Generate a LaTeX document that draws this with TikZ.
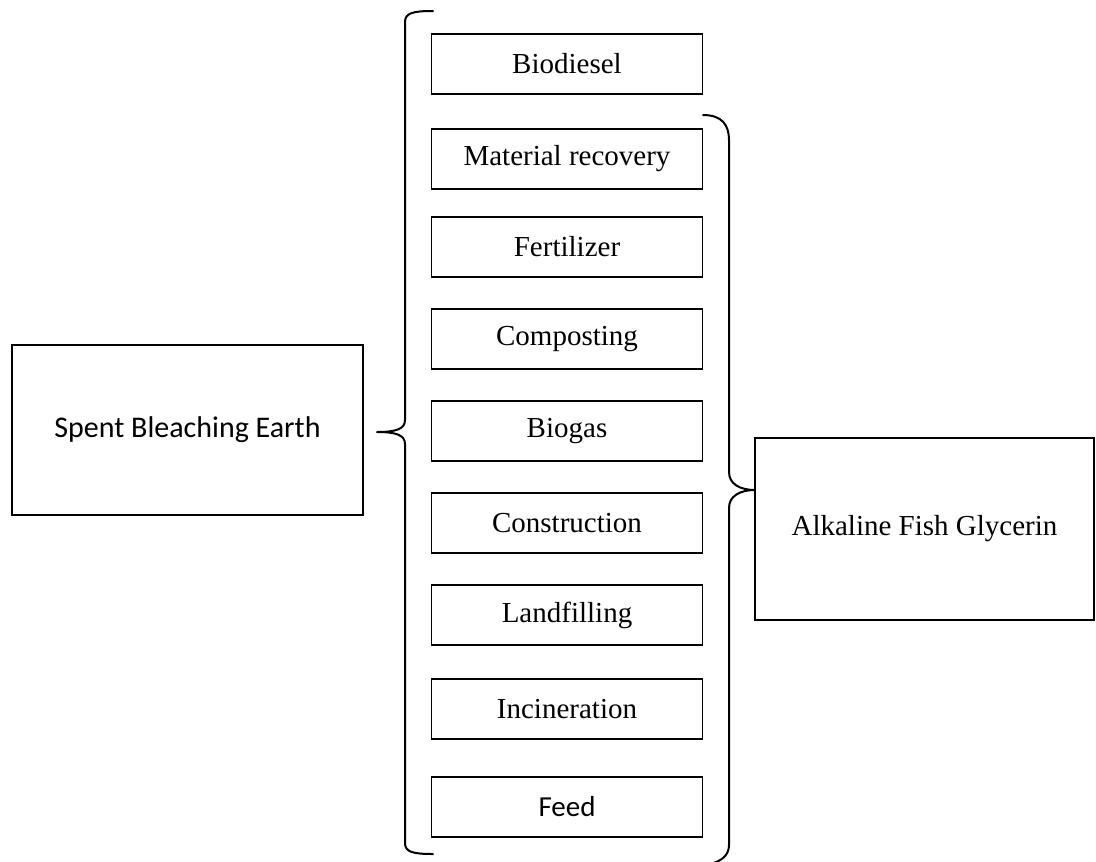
\documentclass[tikz,border=0pt]{standalone}
\usepackage{fontspec}
\setmainfont{Liberation Serif}
\newfontfamily\sbesans{Carlito}
\begin{document}
\begin{tikzpicture}[x=0.75pt,y=-0.75pt,
  box/.style={draw=black,line width=1.3pt,inner sep=0pt,outer sep=0pt,align=center,
    font=\fontsize{21.75}{26}\selectfont},
  item/.style={box,minimum width=203.25pt,minimum height=45pt},
  bracepath/.style={draw=black,line width=1.5pt,line cap=round,line join=round}]
\useasboundingbox (0,0) rectangle (1096,861);
% left big box
\node[box,minimum width=263.25pt,minimum height=127.5pt,font=\sbesans\fontsize{22.5}{27}\selectfont] (sbe) at (187.5,430) {Spent Bleaching Earth};
% right big box
\node[box,minimum width=254.25pt,minimum height=136.5pt] (afg) at (924.5,529) {Alkaline Fish Glycerin};
% items
\node[item] (bio) at (567,64) {Biodiesel};
\node[item] (mat) at (567,159) {Material recovery};
\node[item] (fer) at (567,247) {Fertilizer};
\node[item] (com) at (567,339) {Composting};
\node[item] (bgs) at (567,431) {Biogas};
\node[item] (con) at (567,523) {Construction};
\node[item] (lan) at (567,615) {Landfilling};
\node[item] (inc) at (567,709) {Incineration};
\node[item,font=\sbesans\fontsize{21.75}{26}\selectfont] (fee) at (567,807) {Feed};
% left brace
\coordinate (ltip) at (377,432);
\draw[bracepath] (433,11) .. controls (413,11) and (405,13) .. (405,22) -- (405,420)
  .. controls (405,429) and (396,432) .. (ltip)
  .. controls (396,432) and (405,435) .. (405,444) -- (405,843)
  .. controls (405,852) and (413,854) .. (433,854);
% right brace
\coordinate (rtip) at (755,490);
\draw[bracepath] (703,115) .. controls (722,115) and (729,125) .. (729,140) -- (729,472)
  .. controls (729,484) and (740,490) .. (rtip)
  .. controls (740,490) and (729,496) .. (729,508) -- (729,845)
  .. controls (729,855) and (722,861) .. (710,864);
\end{tikzpicture}
\end{document}
